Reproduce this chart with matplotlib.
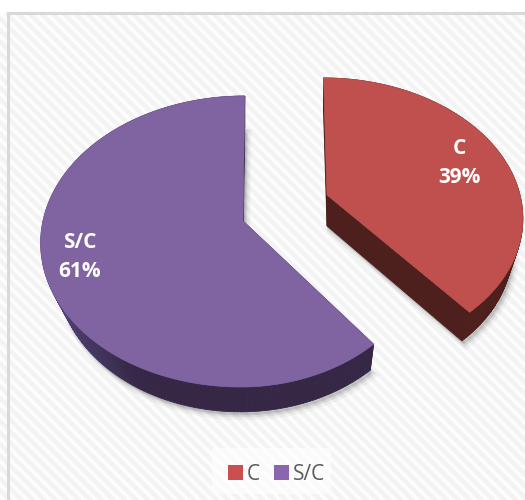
import numpy as np
import matplotlib
matplotlib.use("Agg")
import matplotlib.pyplot as plt
from matplotlib.collections import LineCollection
from matplotlib.colors import to_rgb
from matplotlib.patches import Polygon, Rectangle

labels = ["C", "S/C"]
values = [39, 61]
face_colors = ["#c0504d", "#8064a2"]
legend_colors = ["#c9504f", "#8a66ad"]

plt.rcParams["font.family"] = ["Open Sans", "DejaVu Sans"]

W, H = 525, 500
fig = plt.figure(figsize=(W / 100, H / 100), dpi=100)
ax = fig.add_axes([0, 0, 1, 1])
ax.set_xlim(0, W)
ax.set_ylim(H, 0)
ax.axis("off")

# -------------------------
# Striped chart background
# -------------------------
stripes = [[(x, 13), (x + H, 13 + H)] for x in np.arange(-H, W + 20, 11.5)]
for lw, col in [(4.6, "#fafafa"), (2.8, "#f3f3f3")]:
    lc = LineCollection(stripes, colors=col, linewidths=lw, zorder=1)
    lc.set_clip_path(Rectangle((8, 13), W, H, transform=ax.transData))
    ax.add_collection(lc)
ax.plot([8, 8], [13, H], color="#d9d9d9", lw=2.2, zorder=2, solid_capstyle="butt")
ax.plot([7, W], [13, 13], color="#d9d9d9", lw=2.2, zorder=2, solid_capstyle="butt")


# -------------------------
# Perspective pie helpers
# -------------------------
def project(theta, g, t=0.0):
    """theta is clockwise from 12 o'clock, t runs top face (0) to bottom face (1)"""
    u = np.sin(theta)
    v = np.cos(theta)
    w = 1 + g["k"] * v
    rx = np.where(u > 0, g["rx_r"] * (1 - t * g["sx_r"]), g["rx_l"] * (1 - t * g["sx_l"]))
    a = g["a"] * (1 - t * g["sy"])
    x = g["cx"] + (rx * u + g["s"] * v) / w
    y = g["cy"] + t * g["depth"] - a * v / w
    return x, y


def outline(th, g, t=0.0):
    x, y = project(th, g, t)
    return np.column_stack([np.r_[g["cx"], x], np.r_[g["cy"] + t * g["depth"], y]])


red = dict(cx=327, cy=195, rx_l=193, rx_r=193, a=134.6, k=0.15, s=-4.0,
           sx_l=0.055, sx_r=0.055, sy=0.02, depth=31)
purple = dict(cx=243, cy=221, rx_l=200, rx_r=185, a=142.6, k=0.141, s=2.0,
              sx_l=0.08, sx_r=0.025, sy=0.025, depth=29)

fracs = np.array(values) / sum(values)
edges = np.r_[0, np.cumsum(fracs)] * 2 * np.pi
th_red = np.linspace(edges[0], edges[1], 160)
th_purple = np.linspace(edges[1], edges[2], 240)


def draw_shadow(th, g):
    pts = outline(th, g, 1.0)
    for off, alpha in [(5, 0.05), (3.5, 0.07), (2, 0.09)]:
        ax.add_patch(Polygon(pts + [off * 0.7, off], closed=True, fc="#404040",
                             ec="#404040", lw=off, alpha=alpha, zorder=3))


def draw_side(th, g, color_at):
    # quads between the top and the bottom rim
    x0, y0 = project(th, g, 0.0)
    x1, y1 = project(th, g, 1.0)
    for i in range(len(th) - 1):
        quad = [(x0[i], y0[i]), (x0[i + 1], y0[i + 1]), (x1[i + 1], y1[i + 1]), (x1[i], y1[i])]
        c = color_at((x0[i] - g["cx"]))
        ax.add_patch(Polygon(quad, closed=True, fc=c, ec=c, lw=0.6, zorder=4))
    # cut faces
    for end in (th[0], th[-1]):
        xa, ya = project(np.array([end]), g, 0.0)
        xb, yb = project(np.array([end]), g, 1.0)
        quad = [(g["cx"], g["cy"]), (xa[0], ya[0]), (xb[0], yb[0]), (g["cx"], g["cy"] + g["depth"])]
        c = color_at(xa[0] - g["cx"])
        ax.add_patch(Polygon(quad, closed=True, fc=c, ec=c, lw=0.6, zorder=4))


def purple_side(dx):
    f = np.clip((dx + 200) / 90, 0, 1)
    c0 = np.array(to_rgb("#54437a"))
    c1 = np.array(to_rgb("#352745"))
    return tuple(c0 + (c1 - c0) * f)


draw_shadow(th_purple, purple)
draw_shadow(th_red, red)
draw_side(th_purple, purple, purple_side)
draw_side(th_red, red, lambda dx: "#4d1f1d")
ax.add_patch(Polygon(outline(th_purple, purple), closed=True, fc=face_colors[1], ec=face_colors[1], lw=0.5, zorder=5))
ax.add_patch(Polygon(outline(th_red, red), closed=True, fc=face_colors[0], ec=face_colors[0], lw=0.5, zorder=5))

# -------------------------
# Data labels
# -------------------------
ax.text(459, 163, f"{labels[0]}\n{values[0]}%", color="white", fontsize=15, fontweight="bold",
        ha="center", va="center", linespacing=1.5, zorder=6)
ax.text(80, 257, f"{labels[1]}\n{values[1]}%", color="white", fontsize=15, fontweight="bold",
        ha="center", va="center", linespacing=1.5, zorder=6)

# -------------------------
# Legend
# -------------------------
ax.add_patch(Rectangle((212, 448), 119, 46, fc="white", ec="none", alpha=0.6, zorder=2))
for lab, col, x_box in zip(labels, legend_colors, [228, 274]):
    ax.add_patch(Rectangle((x_box, 465), 15, 15, fc=col, ec="none", zorder=6))
    ax.text(x_box + 18.5, 472, lab, color="#595959", fontsize=15, ha="left", va="center_baseline", zorder=6)

fig.savefig("out.png", dpi=100)
plt.close(fig)
